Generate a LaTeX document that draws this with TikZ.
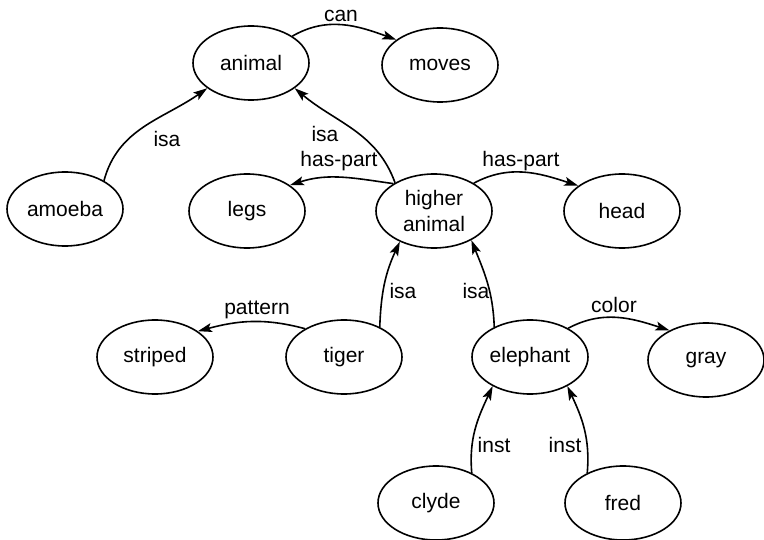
\documentclass[tikz,border=0pt]{standalone}
\usepackage{fontspec}
\setmainfont{Liberation Sans}
\usetikzlibrary{shapes.geometric,arrows.meta}
\begin{document}
\begin{tikzpicture}[x=1pt,y=-1pt,
  concept/.style={draw,ellipse,line width=1.6pt,minimum width=116pt,minimum height=74pt,inner sep=0pt,align=center,font=\fontsize{21}{26}\selectfont},
  lbl/.style={anchor=base,inner sep=0pt,font=\fontsize{21}{26}\selectfont},
  arr/.style={line width=1.6pt,-{Stealth[length=14pt,width=9pt,inset=3pt]}}]
\useasboundingbox (0,0) rectangle (764,540);
\node[concept] (animal) at (251,63) {animal};
\node[concept] (moves) at (440,65) {moves};
\node[concept] (amoeba) at (65,209) {amoeba};
\node[concept] (legs) at (247,211) {legs};
\node[concept] (higher) at (434,211) {higher\\animal};
\node[concept] (head) at (622,211) {head};
\node[concept] (striped) at (155,357) {striped};
\node[concept] (tiger) at (344,357) {tiger};
\node[concept] (elephant) at (530,357) {elephant};
\node[concept] (gray) at (706,360) {gray};
\node[concept] (clyde) at (436,503) {clyde};
\node[concept] (fred) at (623,503) {fred};

\draw[arr] (animal.33) to[out=30,in=160] (moves.150);
\draw[arr] (amoeba.36) to[out=75,in=215] (animal.210);
\draw[arr] (higher.144) to[out=110,in=-40] (animal.330);
\draw[arr] (higher.146) to[out=172,in=18] (legs.31);
\draw[arr] (higher.35) to[out=28,in=162] (head.150);
\draw[arr] (tiger.40) to[out=88,in=-115] (higher.222);
\draw[arr] (elephant.140) to[out=92,in=-68] (higher.322);
\draw[arr] (tiger.144) to[out=165,in=15] (striped.31);
\draw[arr] (elephant.37) to[out=28,in=162] (gray.141);
\draw[arr] (clyde.40) to[out=95,in=-115] (elephant.218);
\draw[arr] (fred.140) to[out=85,in=-65] (elephant.322);

\node[lbl] (lcan) at (341,22) {can};
\node[lbl] (lisa1) at (167,147) {isa};
\node[lbl] (lisa2) at (325,142) {isa};
\node[lbl] (lhp1) at (339,167) {has-part};
\node[lbl] (lhp2) at (521,167) {has-part};
\node[lbl] (lpat) at (257,315) {pattern};
\node[lbl] (lisa3) at (403,299) {isa};
\node[lbl] (lisa4) at (476,299) {isa};
\node[lbl] (lcol) at (614,313) {color};
\node[lbl] (lin1) at (494,452) {inst};
\node[lbl] (lin2) at (565,452) {inst};
\end{tikzpicture}
\end{document}
